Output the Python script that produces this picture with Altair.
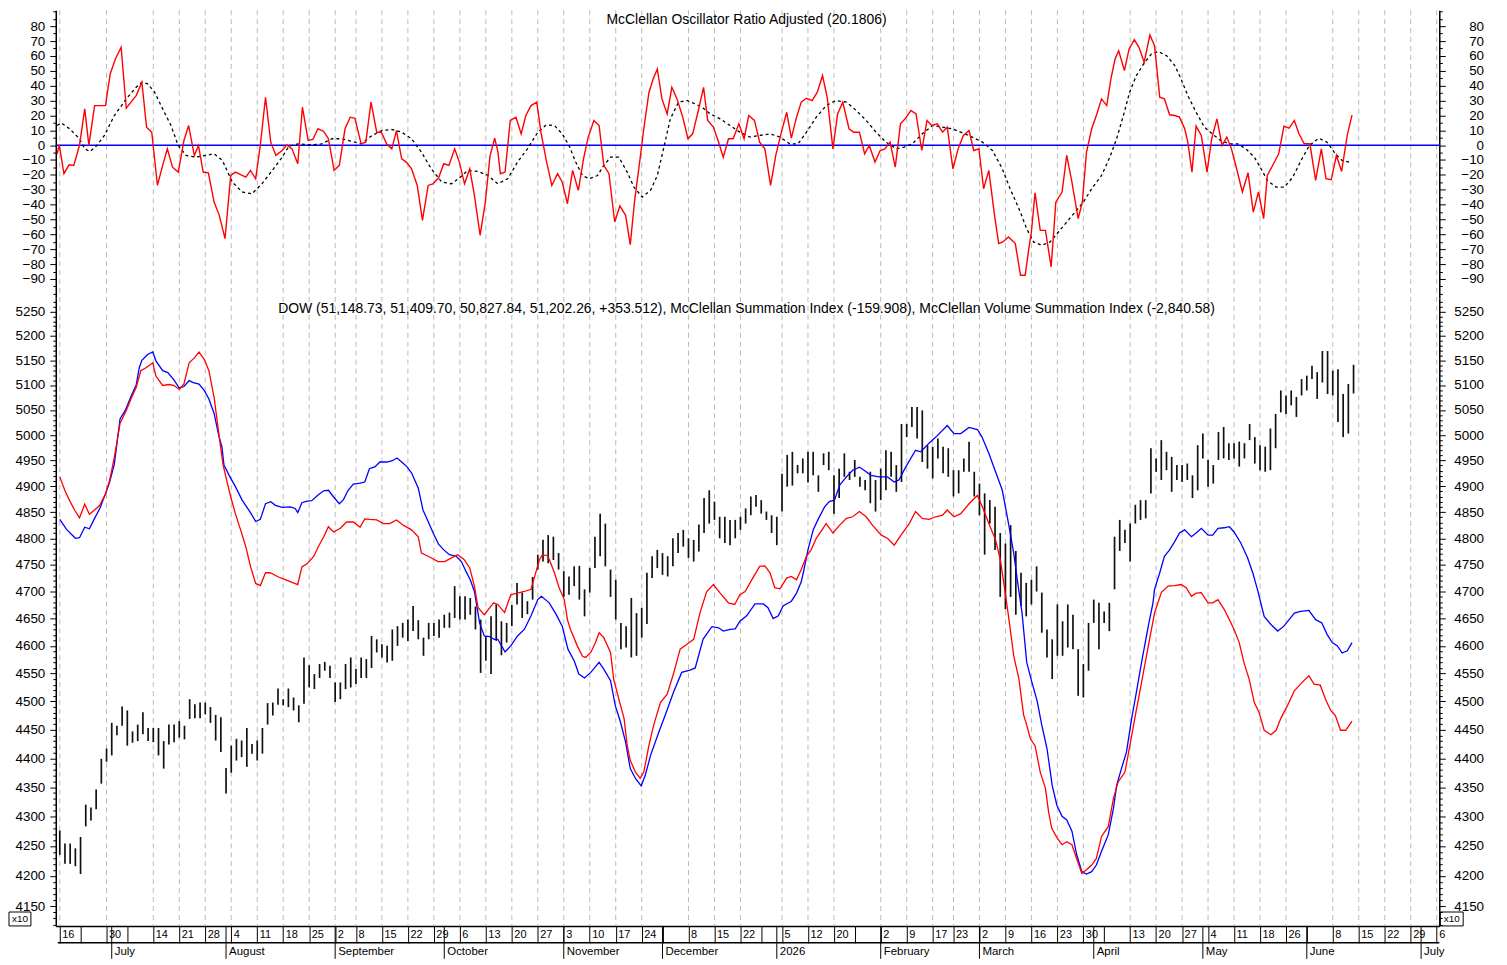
import altair as alt
import pandas as pd

# ---------------- data (x = trading-day index, 0 = 16 Jun 2025) ----------------
bar_high = [4276,4254,4254,4246,4265,4320,4315,4346,4399,4417,4462,4457,4491,4484,4447,4459,4481,4453,4453,4453,
            4430,4459,4459,4465,4457,4504,4495,4498,4498,4490,4476,4472,4383,4422,4434,4431,4453,4425,4431,4453,
            4497,4498,4523,4504,4523,4507,4493,4579,4565,4549,4567,4571,4564,4534,4534,4567,4579,4558,4579,4576,
            4618,4612,4603,4600,4630,4636,4642,4648,4673,4647,4615,4642,4642,4648,4657,4661,4710,4691,4691,4688,
            4672,4648,4618,4654,4676,4645,4642,4675,4716,4698,4682,4727,4769,4797,4806,4803,4772,4738,4728,4747,
            4748,4704,4744,4803,4847,4828,4741,4722,4642,4636,4688,4660,4670,4735,4766,4778,4772,4766,4800,4810,
            4816,4800,4797,4826,4877,4892,4870,4841,4841,4835,4835,4841,4857,4880,4883,4873,4851,4844,4841,4924,
            4961,4967,4941,4954,4967,4967,4921,4964,4967,4921,4934,4964,4928,4951,4918,4912,4928,4912,4934,4970,
            4967,4941,5022,5022,5056,5056,5049,4980,4977,4993,4977,4974,4931,4931,4954,4987,4928,4905,4886,4873,
            4860,4810,4790,4825,4776,4735,4716,4722,4747,4698,4630,4612,4676,4645,4676,4657,4594,4567,4642,4685,
            4679,4663,4679,4803,4835,4816,4828,4864,4873,4873,4974,4954,4990,4967,4957,4941,4941,4944,4921,4980,
            5003,4951,4941,5006,5016,4984,4984,4987,4984,5022,4996,4980,4977,5013,5042,5089,5079,5089,5076,5112,
            5119,5139,5126,5169,5169,5129,5132,5082,5102,5141]
bar_low = [4235,4220,4220,4216,4203,4283,4293,4312,4356,4394,4405,4440,4457,4422,4427,4430,4442,4430,4428,4405,
           4382,4424,4428,4436,4433,4469,4470,4470,4477,4462,4431,4411,4339,4375,4396,4402,4385,4408,4396,4408,
           4459,4475,4494,4493,4490,4484,4463,4496,4525,4522,4542,4555,4542,4499,4504,4522,4525,4531,4542,4542,
           4560,4588,4579,4570,4573,4600,4615,4609,4627,4612,4582,4612,4618,4615,4633,4633,4651,4648,4648,4657,
           4630,4551,4573,4549,4609,4583,4606,4636,4676,4651,4658,4685,4741,4756,4753,4759,4741,4690,4694,4710,
           4685,4654,4698,4744,4766,4747,4690,4648,4594,4597,4579,4582,4615,4640,4725,4744,4731,4728,4747,4772,
           4784,4763,4756,4775,4810,4828,4835,4800,4791,4787,4800,4816,4828,4844,4860,4847,4835,4810,4787,4851,
           4899,4901,4925,4925,4907,4921,4889,4941,4931,4847,4877,4918,4912,4918,4899,4892,4867,4851,4873,4892,
           4918,4889,4908,4996,5016,4993,4947,4934,4915,4954,4925,4918,4880,4886,4928,4928,4880,4844,4769,4828,
           4778,4690,4667,4690,4657,4673,4654,4676,4700,4624,4579,4540,4582,4582,4597,4594,4510,4507,4555,4642,
           4594,4642,4627,4704,4776,4791,4756,4828,4835,4838,4886,4928,4912,4931,4889,4912,4908,4912,4877,4892,
           4954,4899,4905,4951,4954,4951,4954,4938,4954,4990,4944,4931,4928,4931,4974,5045,5042,5059,5036,5079,
           5089,5112,5072,5105,5082,5079,5026,4996,5003,5083]

# McClellan Summation Index (blue), read in the x10 price units of the panel
si_pts = [(0,4836),(1.3,4817),(3.0,4800),(3.8,4801),(4.8,4821),(5.7,4818),(6.6,4836),(7.7,4857),(8.8,4885),(9.6,4908),
          (10.5,4943),(11.6,5032),(12.6,5049),(13.7,5077),(14.7,5100),(15.3,5135),(15.8,5150),(16.9,5162),(17.9,5167),
          (18.5,5149),(19.8,5129),(20.8,5125),(22.0,5110),(23.0,5094),(23.9,5097),(24.9,5109),(25.7,5105),(26.8,5102),
          (27.8,5089),(28.7,5072),(29.7,5043),(30.6,4999),(31.2,4977),(31.6,4941),(32.6,4921),(33.8,4899),(35.1,4873),
          (36.7,4849),(37.7,4832),(38.6,4836),(39.6,4866),(40.6,4870),(41.5,4863),(42.8,4859),(44.4,4860),(45.3,4857),
          (45.8,4849),(46.6,4868),(47.6,4871),(48.5,4872),(49.7,4883),(50.8,4891),(51.7,4892),(52.7,4879),(53.8,4866),
          (54.6,4874),(55.5,4892),(56.5,4904),(57.8,4906),(58.7,4908),(59.6,4934),(60.7,4938),(61.6,4947),(62.9,4947),
          (63.9,4949),(64.9,4955),(65.8,4947),(66.8,4938),(67.7,4926),(69.0,4896),(69.9,4854),(70.9,4832),(71.9,4809),
          (72.9,4789),(73.9,4778),(75.0,4769),(76.3,4766),(77.3,4756),(78.2,4737),(79.0,4722),(79.8,4700),(80.8,4642),
          (81.7,4618),(82.7,4617),(83.6,4612),(84.3,4612),(85.7,4589),(86.8,4600),(88.1,4618),(89.4,4630),(90.7,4655),
          (92.0,4685),(92.7,4691),(94.2,4679),(95.5,4658),(96.7,4636),(97.8,4594),(99.0,4573),(99.9,4549),(101.0,4542),
          (102.2,4552),(103.8,4570),(104.7,4558),(106.0,4537),(106.9,4493),(107.9,4464),(108.9,4428),(109.8,4382),
          (110.8,4365),(111.9,4352),(112.7,4371),(113.7,4405),(115.3,4446),(116.5,4475),(118.1,4516),(119.7,4552),
          (121.3,4556),(122.3,4560),(123.8,4612),(125.5,4635),(126.8,4633),(127.7,4627),(129.0,4630),(130.0,4631),
          (130.9,4645),(132.2,4655),(133.8,4677),(135.4,4677),(136.3,4670),(137.3,4650),(138.3,4655),(139.2,4673),
          (140.8,4682),(141.8,4697),(142.7,4718),(143.1,4735),(144.0,4778),(145.0,4816),(145.9,4835),(147.2,4860),
          (148.1,4870),(149.1,4873),(150.1,4902),(151.4,4918),(152.6,4931),(153.9,4937),(154.8,4931),(156.1,4921),
          (157.7,4918),(159.3,4918),(160.6,4908),(161.5,4912),(162.8,4937),(164.7,4970),(165.7,4967),(167.3,4984),
          (168.6,4996),(170.8,5019),(172.1,5003),(173.4,5003),(175.0,5015),(176.6,5011),(177.5,4996),(178.8,4964),
          (180.1,4928),(181.4,4892),(182.6,4828),(183.6,4772),(184.2,4728),(185.2,4660),(186.1,4570),(187.1,4534),
          (188.1,4501),(189.0,4458),(190.0,4417),(191.0,4353),(191.9,4319),(192.9,4300),(193.8,4294),(194.8,4275),
          (195.7,4236),(196.7,4207),(197.6,4203),(198.6,4207),(199.5,4218),(200.5,4241),(201.8,4269),(202.8,4314),
          (203.4,4353),(204.3,4381),(205.3,4411),(206.3,4470),(207.2,4516),(208.2,4570),(209.5,4636),(210.4,4679),
          (210.7,4704),(211.7,4735),(212.6,4766),(213.6,4778),(214.6,4794),(215.5,4810),(216.5,4816),(217.8,4803),
          (218.7,4810),(219.7,4819),(221.0,4806),(221.9,4806),(222.9,4819),(224.1,4820),(225.1,4822),(226.0,4812),
          (227.3,4791),(228.6,4763),(229.6,4735),(230.5,4704),(231.8,4654),(233.1,4639),(234.4,4627),(235.6,4636),
          (236.6,4648),(237.6,4660),(238.8,4663),(240.4,4665),(241.7,4648),(242.9,4642),(243.9,4621),(244.9,4606),
          (245.9,4600),(246.8,4587),(247.8,4591),(248.7,4606)]

# McClellan Volume Summation Index (red)
vsi_pts = [(0,4918),(1.0,4891),(1.9,4872),(2.9,4853),(3.8,4839),(4.8,4865),(5.7,4846),(6.7,4854),(7.7,4863),(8.8,4885),
           (9.6,4911),(10.5,4956),(11.6,5023),(12.8,5049),(13.7,5072),(14.7,5095),(15.6,5129),(16.6,5135),(17.9,5145),
           (18.5,5118),(19.8,5099),(21.1,5101),(22.0,5099),(23.0,5091),(23.9,5102),(24.9,5145),(25.9,5155),(26.8,5167),
           (27.8,5152),(28.7,5129),(29.7,5075),(30.7,4996),(31.4,4943),(31.9,4921),(32.9,4879),(33.8,4847),(34.8,4816),
           (35.8,4784),(36.7,4747),(37.7,4715),(38.6,4711),(39.6,4735),(40.5,4735),(42.1,4727),(43.4,4722),(44.7,4717),
           (45.8,4713),(46.6,4746),(47.6,4752),(48.9,4766),(49.8,4785),(50.8,4803),(51.7,4822),(52.7,4812),(54.0,4819),
           (55.2,4831),(56.5,4831),(57.8,4821),(58.7,4837),(59.7,4836),(61.0,4835),(62.3,4828),(63.5,4828),(64.8,4835),
           (66.1,4825),(67.7,4816),(69.0,4803),(69.6,4772),(70.9,4766),(72.8,4756),(74.1,4756),(75.4,4763),(76.6,4769),
           (77.8,4760),(78.9,4744),(79.8,4710),(80.5,4670),(81.7,4657),(83.0,4673),(83.5,4679),(84.3,4676),(85.6,4661),
           (86.8,4694),(88.1,4697),(89.4,4700),(90.7,4704),(91.3,4725),(92.3,4759),(92.9,4769),(93.9,4767),(94.5,4753),
           (95.2,4735),(96.1,4707),(97.1,4685),(97.7,4648),(98.3,4630),(99.6,4600),(100.6,4581),(101.2,4579),(102.2,4588),
           (103.1,4606),(103.8,4624),(104.7,4615),(106.0,4588),(106.6,4540),(107.6,4504),(108.6,4470),(109.2,4423),
           (109.8,4396),(110.8,4376),(111.7,4365),(112.4,4376),(113.4,4423),(114.3,4458),(115.6,4498),(116.9,4513),
           (118.1,4549),(119.4,4594),(120.7,4603),(122.0,4612),(123.2,4660),(124.5,4700),(125.8,4713),(127.1,4697),
           (128.7,4679),(129.9,4676),(130.9,4694),(131.9,4700),(133.2,4722),(134.7,4747),(135.7,4748),(136.7,4735),
           (137.6,4707),(138.6,4705),(139.9,4725),(140.8,4728),(141.8,4722),(142.7,4741),(143.7,4766),(144.6,4778),
           (145.6,4800),(146.5,4813),(147.5,4828),(148.8,4810),(150.1,4825),(151.4,4838),(152.6,4841),(153.9,4851),
           (155.2,4841),(156.4,4825),(158.1,4806),(159.3,4800),(160.6,4787),(161.9,4806),(163.5,4828),(164.7,4851),
           (166.0,4838),(167.3,4836),(168.6,4841),(169.9,4844),(170.8,4854),(172.1,4841),(173.4,4847),(175.0,4866),
           (176.6,4882),(177.7,4857),(178.8,4828),(180.1,4797),(181.0,4760),(181.7,4715),(182.6,4654),(183.6,4582),
           (184.6,4540),(185.5,4476),(186.1,4458),(186.8,4434),(187.7,4422),(188.7,4376),(189.7,4348),(190.3,4308),
           (190.9,4280),(191.9,4264),(192.9,4252),(193.8,4257),(194.8,4252),(195.7,4229),(196.7,4204),(197.6,4210),
           (198.6,4218),(199.5,4229),(200.5,4266),(201.8,4283),(202.8,4331),(203.7,4359),(205.0,4376),(205.6,4405),
           (206.9,4470),(208.2,4534),(209.5,4600),(210.7,4660),(212.0,4698),(213.3,4710),(214.6,4711),(215.8,4713),
           (216.8,4707),(217.8,4691),(218.7,4697),(219.7,4698),(221.0,4679),(221.9,4679),(222.9,4685),(224.1,4667),
           (225.1,4648),(226.0,4630),(227.0,4606),(227.9,4570),(228.9,4540),(229.9,4498),(230.8,4481),(231.8,4449),
           (233.1,4441),(234.1,4449),(235.0,4470),(236.3,4493),(237.6,4519),(239.1,4534),(240.4,4546),(241.4,4531),
           (242.6,4529),(243.6,4504),(244.6,4484),(245.5,4475),(246.5,4449),(247.5,4449),(248.7,4465)]

# McClellan Oscillator Ratio Adjusted (red) and its moving average (black dashed)
osc_pts = [(-0.5,-5.8),(-0.1,0.2),(0.8,-19.2),(1.8,-13.2),(2.7,-13.6),(3.8,0.0),(4.8,24.4),(5.6,-0.2),(6.7,26.6),
           (7.7,26.6),(8.8,26.6),(9.7,47.9),(10.7,57.9),(11.8,65.8),(12.8,24.8),(13.7,28.9),(14.7,33.3),(15.8,42.3),
           (16.7,12.1),(17.7,8.7),(18.8,-27.1),(19.8,-13.6),(20.7,-2.5),(21.7,-14.8),(22.8,-18.1),(23.9,3.1),(24.8,13.2),
           (25.9,-6.9),(26.7,-0.2),(27.6,-18.1),(28.6,-18.6),(29.7,-38.3),(30.7,-47.2),(31.8,-62.9),(32.9,-20.4),
           (33.8,-18.1),(34.8,-19.9),(35.8,-21.5),(36.7,-17.0),(37.7,-22.6),(38.6,0.2),(39.6,32.2),(40.6,2.0),(41.6,-6.9),
           (42.8,-3.6),(43.7,0.2),(44.7,-2.5),(45.8,-12.5),(46.7,25.5),(47.8,3.1),(48.7,3.8),(49.7,11.0),(50.8,9.2),
           (51.7,4.3),(52.8,-17.0),(53.8,-13.6),(54.9,11.0),(55.9,18.8),(56.8,18.1),(58.0,0.9),(58.9,2.0),(59.9,28.9),
           (61.0,8.7),(61.9,8.7),(62.9,0.9),(63.9,-2.5),(64.8,9.8),(65.8,-9.2),(66.7,-11.4),(67.7,-15.9),(68.8,-27.1),
           (69.8,-50.6),(70.9,-27.1),(71.8,-26.0),(72.9,-22.1),(73.9,-12.5),(74.9,-13.6),(76.0,-2.5),(76.9,-11.4),
           (77.9,-26.0),(78.9,-15.9),(79.8,-33.8),(80.9,-60.6),(81.9,-38.3),(82.8,-7.4),(83.7,4.7),(84.3,-4.0),
           (84.8,-19.2),(85.7,-18.1),(86.7,16.6),(87.8,18.8),(88.8,7.6),(89.7,19.9),(90.7,26.6),(91.8,28.9),(92.6,8.7),
           (93.7,-11.4),(94.7,-27.1),(95.8,-19.2),(96.7,-24.8),(97.7,-39.4),(98.7,-17.0),(99.8,-30.4),(100.8,-9.2),
           (101.7,5.4),(102.8,16.6),(103.8,13.2),(104.7,-13.6),(105.7,-19.2),(106.8,-51.7),(107.8,-40.9),(108.9,-47.2),
           (109.8,-66.9),(110.6,-38.3),(111.6,-11.4),(112.4,11.0),(113.4,35.6),(114.2,44.5),(115.0,51.2),(115.9,31.1),
           (116.9,21.0),(117.8,38.9),(118.8,31.1),(119.9,18.8),(120.9,4.3),(121.8,7.6),(122.9,23.3),(123.9,38.9),
           (124.7,16.6),(125.8,12.1),(126.8,2.0),(127.7,-8.1),(128.7,4.3),(129.6,4.3),(130.7,14.3),(131.7,4.3),
           (132.6,19.9),(133.7,16.6),(134.7,2.0),(135.7,-2.5),(136.8,-27.1),(137.8,-6.9),(138.8,7.6),(139.9,22.1),
           (140.8,4.7),(141.8,18.8),(142.7,28.9),(143.7,31.5),(144.8,30.0),(145.8,35.6),(146.8,46.8),(147.7,32.2),
           (148.8,-2.5),(149.7,21.0),(150.7,28.9),(151.9,11.0),(152.8,8.7),(153.9,8.7),(154.9,-5.8),(155.8,-0.2),
           (156.9,-11.4),(157.9,-3.6),(158.8,-2.5),(159.8,2.0),(160.8,-14.8),(161.8,14.3),(162.7,17.7),(163.8,23.3),
           (164.8,21.0),(165.9,-3.6),(166.9,16.6),(167.8,13.2),(168.9,14.3),(169.9,8.7),(170.8,12.1),(171.9,-15.9),
           (172.9,-2.5),(173.9,6.5),(175.0,9.8),(175.9,-3.6),(176.9,-2.5),(177.8,-29.3),(178.8,-17.0),(179.9,-47.0),
           (180.7,-66.2),(181.5,-65.1),(182.6,-61.7),(183.9,-66.2),(184.9,-87.5),(185.8,-87.5),(186.5,-69.6),(187.0,-58.4),
           (187.7,-32.0),(188.7,-57.3),(189.7,-57.3),(190.8,-81.9),(191.7,-38.3),(192.9,-31.5),(193.8,-6.9),(194.8,-24.8),
           (196.0,-49.4),(196.8,-38.3),(197.6,-4.7),(198.6,11.0),(199.5,19.9),(200.5,31.1),(201.5,26.6),(202.3,44.5),
           (203.1,57.9),(203.8,63.5),(204.9,50.1),(205.8,64.7),(206.8,70.9),(207.7,65.8),(208.7,55.7),(209.8,74.0),
           (210.7,66.9),(211.7,32.2),(212.6,31.1),(213.6,20.4),(214.6,19.9),(215.5,18.8),(216.5,11.0),(217.1,2.0),
           (217.9,-18.1),(218.7,12.8),(219.7,6.5),(220.8,-18.1),(221.7,4.3),(222.7,17.7),(223.7,-0.2),(224.6,5.4),
           (225.5,-2.5),(226.5,-15.9),(227.6,-31.5),(228.7,-18.6),(229.7,-45.0),(230.7,-31.5),(231.7,-49.4),(232.4,-20.4),
           (233.6,-12.5),(234.6,-5.8),(235.6,12.8),(236.6,11.4),(237.6,16.6),(238.5,7.6),(239.5,0.9),(240.6,0.9),
           (241.7,-23.7),(242.8,-2.5),(243.7,-22.6),(244.7,-23.3),(245.7,-6.9),(246.7,-17.7),(247.8,6.9),(248.7,20.2)]

ma_pts = [(-0.5,13.2),(0.3,15.0),(1.9,11.0),(3.8,4.3),(4.8,-2.5),(5.8,-4.3),(7.0,-0.7),(8.6,6.5),(10.5,19.9),(12.8,31.1),
          (14.7,38.9),(15.8,42.3),(16.9,41.2),(18.2,36.0),(19.8,24.4),(21.4,13.2),(22.8,-0.2),(24.3,-6.9),(26.2,-8.1),
          (28.1,-6.9),(29.7,-5.8),(31.3,-10.3),(33.2,-24.8),(35.1,-31.5),(37.0,-32.7),(38.9,-26.0),(40.9,-17.0),(42.8,-8.1),
          (44.1,-0.7),(45.9,0.9),(48.5,0.2),(50.4,0.9),(52.4,4.3),(54.3,4.3),(56.2,2.5),(58.1,0.9),(60.1,6.5),(62.0,9.8),
          (63.9,10.5),(65.8,8.7),(67.7,4.3),(69.6,-4.7),(71.5,-15.9),(73.5,-24.8),(75.4,-26.0),(76.9,-22.1),(78.5,-17.0),
          (80.5,-17.7),(82.4,-20.4),(84.3,-26.0),(86.2,-22.6),(88.1,-11.4),(90.0,-2.5),(92.0,8.7),(93.6,13.6),(95.2,13.2),
          (96.7,7.6),(98.0,-0.2),(99.3,-11.4),(100.6,-20.4),(101.9,-22.6),(103.5,-20.4),(104.7,-13.6),(106.0,-8.1),
          (107.6,-8.1),(109.2,-18.1),(110.5,-28.2),(112.1,-34.9),(113.7,-30.4),(115.0,-20.4),(116.2,-2.5),(117.5,17.7),
          (119.1,28.9),(120.7,30.0),(122.3,27.7),(123.6,25.5),(125.2,21.0),(127.1,17.7),(129.0,13.2),(130.9,8.7),
          (132.8,5.4),(134.7,6.5),(136.7,7.6),(138.6,5.4),(140.5,0.9),(142.1,0.9),(143.7,8.7),(145.6,18.8),(147.5,26.6),
          (149.4,30.0),(151.4,28.9),(153.3,23.3),(155.2,16.6),(157.1,8.7),(159.0,2.0),(161.0,-2.5),(162.5,-1.3),
          (164.1,0.9),(166.0,7.6),(168.0,13.2),(169.9,12.1),(171.8,11.0),(173.7,8.3),(175.6,5.4),(177.6,2.0),(179.5,-3.6),
          (181.4,-15.9),(182.9,-29.3),(184.6,-42.7),(186.1,-56.2),(187.4,-65.1),(189.0,-67.3),(190.6,-65.1),(192.2,-58.4),
          (193.8,-51.7),(195.4,-45.0),(197.0,-38.3),(198.6,-29.3),(200.5,-20.4),(202.1,-8.1),(203.4,4.3),(204.7,19.9),
          (205.9,35.6),(207.2,46.8),(208.8,55.7),(210.1,61.3),(211.4,62.9),(213.0,60.2),(214.6,53.5),(215.8,44.5),
          (217.1,33.3),(218.7,22.1),(220.3,12.1),(221.8,7.6),(223.4,3.1),(225.1,0.9),(226.7,0.9),(228.3,-2.5),
          (229.9,-8.1),(231.2,-15.9),(232.4,-23.7),(234.1,-28.2),(235.7,-28.2),(237.3,-21.5),(238.9,-10.3),(240.5,-0.2),
          (242.3,4.7),(243.9,2.0),(245.5,-5.8),(246.8,-10.3),(248.6,-11.9)]

# date axis
week_pos = [0,4,9,13,18,23,28,33,38,43,48,53,57,62,67,72,77,82,87,92,97,102,107,112,116,121,126,131,135,139,
            144,149,153,158,163,168,172,177,182,187,192,197,201,206,211,216,221,226,231,236,240,245,250,255,260,265]
week_lbl = ['16','','30','','14','21','28','4','11','18','25','2','8','15','22','29','6','13','20','27','3','10','17',
            '24','','8','15','22','','5','12','20','','2','9','17','23','2','9','16','23','30','','13','20','27','4',
            '11','18','26','','8','15','22','29','6']
month_pos = [10,32,53,74,97,116,138,158,177,199,220,240,262]
month_lbl = ['July','August','September','October','November','December','2026','February','March','April','May',
             'June','July']

title_top = 'McClellan Oscillator Ratio Adjusted (20.1806)'
title_bot = ('DOW (51,148.73, 51,409.70, 50,827.84, 51,202.26, +353.512), McClellan Summation Index (-159.908), '
             'McClellan Volume Summation Index (-2,840.58)')

top_major = list(range(-90, 81, 10))
top_minor = [v for v in range(-100, 91, 5) if v not in top_major]
bot_major = list(range(4150, 5251, 50))
bot_minor = [v for v in range(4120, 5280, 10) if v % 50 != 0]

# ---------------- layout ----------------
W, H = 1390, 920
TOP_H = 289
FONT = 'Liberation Sans'

x_scale = alt.Scale(domain=[-0.77, 265.5], nice=False, zero=False)
top_scale = alt.Scale(domain=[-102.7, 90.7], range=[TOP_H, 0], nice=False, zero=False)
bot_scale = alt.Scale(type='log', domain=[4117.6, 5278.8], range=[H, TOP_H], nice=False)

lbl_expr = '[' + ','.join("'%s'" % s for s in week_lbl) + '][indexof([' + ','.join(str(p) for p in week_pos) + '], datum.value)]'
x_axis = alt.Axis(values=week_pos, labelExpr=lbl_expr, tickSize=17, tickColor='black', tickWidth=1,
                  domainColor='black', domainWidth=1.5, labelAlign='left', labelOffset=2, labelPadding=-8,
                  labelBaseline='middle', labelFont=FONT, labelFontSize=11, labelColor='black', grid=False,
                  title=None, labelOverlap=False, labelFlush=False)


def X(field='i'):
    return alt.X(field + ':Q', scale=x_scale, axis=x_axis, title=None)


def y_axis_layer(scale, values, orient, major):
    df = pd.DataFrame({'v': [values[len(values) // 2]]})
    if major:
        ax = alt.Axis(orient=orient, values=values, tickSize=6, tickColor='black', tickWidth=1,
                      domain=True, domainColor='black', domainWidth=1.5, grid=False, title=None,
                      labelFont=FONT, labelFontSize=13.5, labelColor='black', format='d',
                      labelAlign='right', labelPadding=(5 if orient == 'left' else 38.5),
                      labelOverlap=False, labelFlush=False, labelBaseline='middle')
    else:
        ax = alt.Axis(orient=orient, values=values, tickSize=3, tickColor='black', tickWidth=1,
                      domain=False, labels=False, grid=False, title=None)
    return alt.Chart(df).mark_point(opacity=0).encode(y=alt.Y('v:Q', scale=scale, axis=ax))


grid_df = pd.DataFrame({'i': [p for p, l in zip(week_pos, week_lbl) if l]})
grid = alt.Chart(grid_df).mark_rule(color='#b9b9b9', strokeDash=[5, 4], strokeWidth=1).encode(
    x=X(), y=alt.value(0), y2=alt.value(H))

zero = alt.Chart(pd.DataFrame({'v': [0]})).mark_rule(color='#0000ff', strokeWidth=1.5).encode(
    y=alt.Y('v:Q', scale=top_scale, axis=None))

ma_df = pd.DataFrame(ma_pts, columns=['i', 'v'])
ma = alt.Chart(ma_df).mark_line(color='black', strokeWidth=1.3, strokeDash=[3, 3]).encode(
    x=X(), y=alt.Y('v:Q', scale=top_scale, axis=None), order='i:Q')

osc_df = pd.DataFrame(osc_pts, columns=['i', 'v'])
osc = alt.Chart(osc_df).mark_line(color='#ff0000', strokeWidth=1.4).encode(
    x=X(), y=alt.Y('v:Q', scale=top_scale, axis=None), order='i:Q')

bars_df = pd.DataFrame({'i': list(range(len(bar_high))), 'hi': bar_high, 'lo': bar_low})
bars = alt.Chart(bars_df).mark_rule(color='#111111', strokeWidth=1.7).encode(
    x=X(), y=alt.Y('lo:Q', scale=bot_scale, axis=None), y2='hi:Q')

si_df = pd.DataFrame(si_pts, columns=['i', 'v'])
si = alt.Chart(si_df).mark_line(color='#0000ff', strokeWidth=1.3).encode(
    x=X(), y=alt.Y('v:Q', scale=bot_scale, axis=None), order='i:Q')

vsi_df = pd.DataFrame(vsi_pts, columns=['i', 'v'])
vsi = alt.Chart(vsi_df).mark_line(color='#ff0000', strokeWidth=1.3).encode(
    x=X(), y=alt.Y('v:Q', scale=bot_scale, axis=None), order='i:Q')

# date band decorations (second row: months)
band_line = alt.Chart(pd.DataFrame({'a': [0]})).mark_rule(color='black', strokeWidth=1.5).encode(
    x=alt.value(2), x2=alt.value(W), y=alt.value(H + 17))
month_df = pd.DataFrame({'i': month_pos, 'm': month_lbl})
month_sep = alt.Chart(month_df).mark_rule(color='black', strokeWidth=1).encode(
    x=X(), y=alt.value(H), y2=alt.value(H + 33))
month_txt = alt.Chart(month_df).mark_text(align='left', baseline='middle', dx=3, font=FONT, fontSize=11.5,
                                          color='black').encode(x=X(), y=alt.value(H + 26), text='m:N')

# titles
t1 = alt.Chart(pd.DataFrame({'t': [title_top]})).mark_text(font=FONT, fontSize=14, color='black',
                                                         align='center', baseline='middle').encode(
    x=alt.value(W / 2 - 1), y=alt.value(10), text='t:N')
t2 = alt.Chart(pd.DataFrame({'t': [title_bot]})).mark_text(font=FONT, fontSize=14, color='black',
                                                         align='center', baseline='middle').encode(
    x=alt.value(W / 2 - 1), y=alt.value(300), text='t:N')

# "x10" scale-factor boxes
box_df = pd.DataFrame({'t': ['x10']})
box_l = alt.Chart(box_df).mark_rect(fillOpacity=0, stroke='black', strokeWidth=1).encode(
    x=alt.value(-47), x2=alt.value(-25), y=alt.value(H - 14), y2=alt.value(H))
box_r = alt.Chart(box_df).mark_rect(fillOpacity=0, stroke='black', strokeWidth=1).encode(
    x=alt.value(W + 1), x2=alt.value(W + 24), y=alt.value(H - 14), y2=alt.value(H))
txt_l = alt.Chart(box_df).mark_text(font=FONT, fontSize=10, color='black', align='center',
                                    baseline='middle').encode(x=alt.value(-36), y=alt.value(H - 7), text='t:N')
txt_r = alt.Chart(box_df).mark_text(font=FONT, fontSize=10, color='black', align='center',
                                    baseline='middle').encode(x=alt.value(W + 12.5), y=alt.value(H - 7), text='t:N')

axes = [
    y_axis_layer(top_scale, top_major, 'left', True),
    y_axis_layer(top_scale, top_minor, 'left', False),
    y_axis_layer(top_scale, top_major, 'right', True),
    y_axis_layer(top_scale, top_minor, 'right', False),
    y_axis_layer(bot_scale, bot_major, 'left', True),
    y_axis_layer(bot_scale, bot_minor, 'left', False),
    y_axis_layer(bot_scale, bot_major, 'right', True),
    y_axis_layer(bot_scale, bot_minor, 'right', False),
]

chart = alt.layer(
    grid, zero, ma, osc, bars, si, vsi, band_line, month_sep, month_txt, t1, t2,
    box_l, box_r, txt_l, txt_r, *axes
).resolve_scale(y='independent').properties(
    width=W, height=H,
    padding={'left': 48, 'top': 0, 'right': 60, 'bottom': 40},
    autosize=alt.AutoSizeParams(type='none'),
    background='white'
).configure_view(stroke=None)

chart.save('out.html', embed_options={'renderer': 'svg', 'actions': False})
